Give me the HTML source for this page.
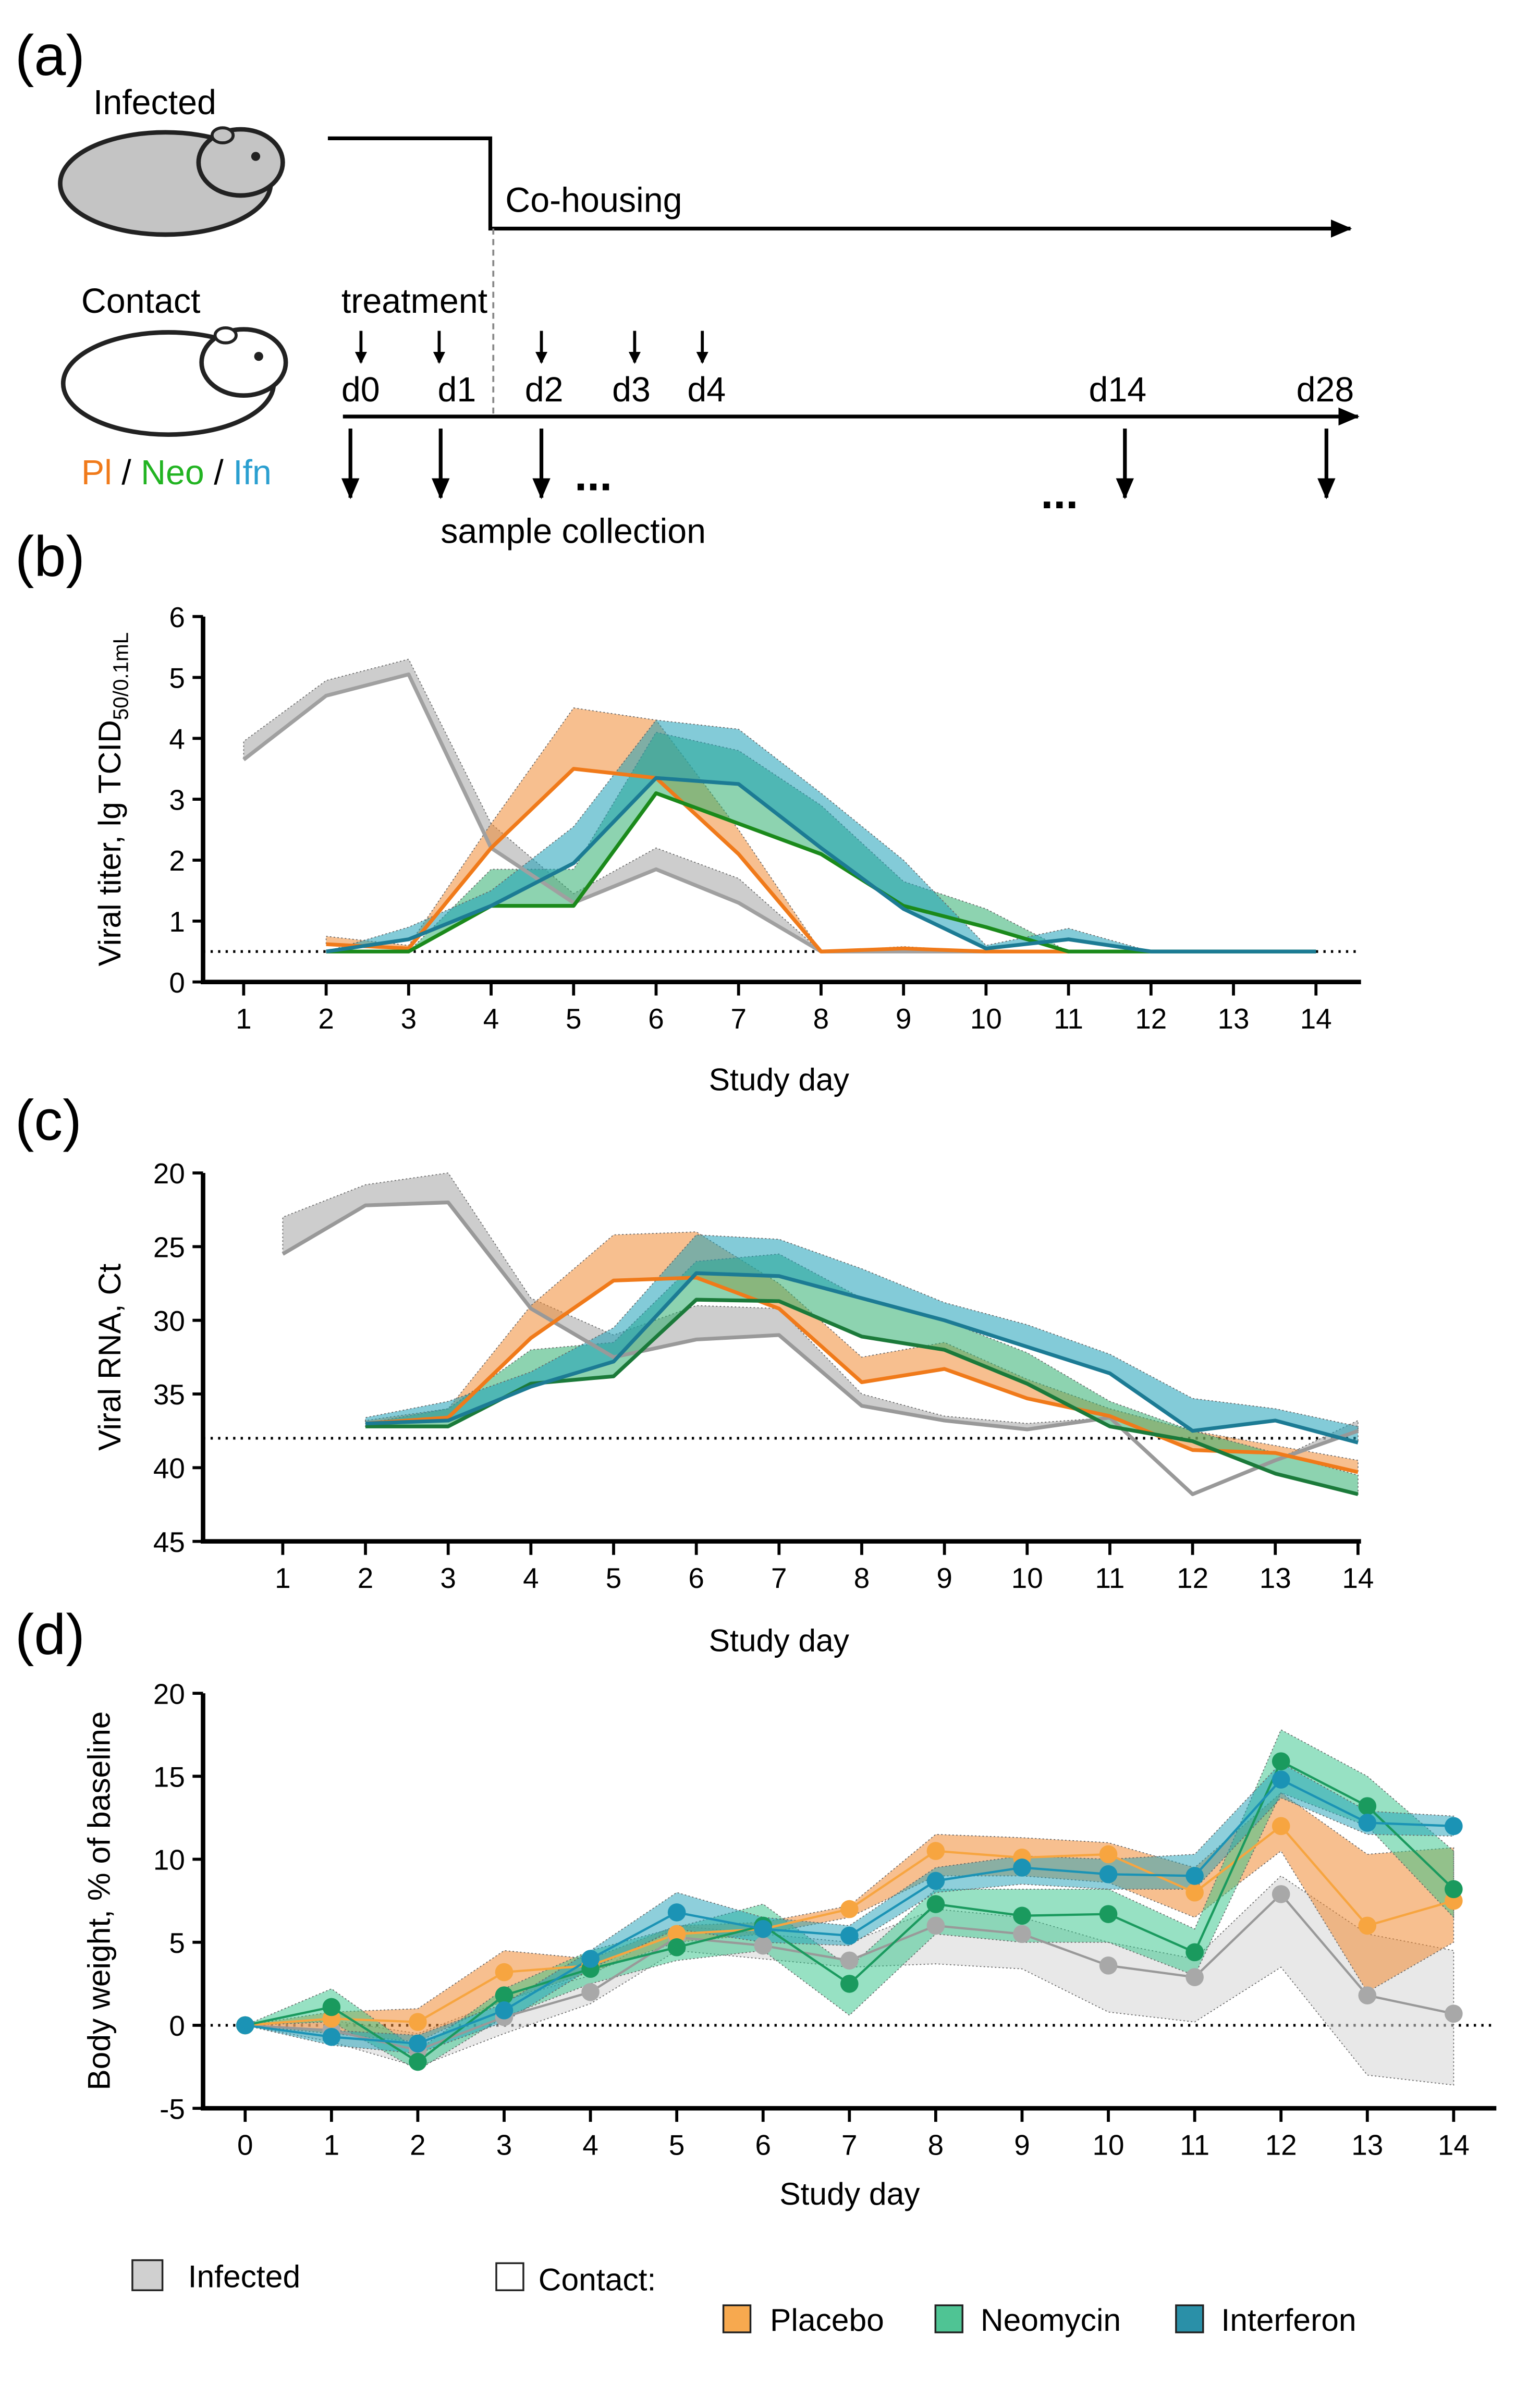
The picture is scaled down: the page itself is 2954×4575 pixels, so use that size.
<!DOCTYPE html>
<html><head><meta charset="utf-8"><style>
html,body{margin:0;padding:0;background:#fff}
svg{display:block;font-family:"Liberation Sans",Arial,sans-serif}
</style></head><body>
<svg id="fig" width="2954" height="4575" viewBox="0 0 1024 1586" xmlns="http://www.w3.org/2000/svg">
<defs><marker id="ah" markerWidth="8" markerHeight="8" refX="7" refY="4" orient="auto" markerUnits="userSpaceOnUse"><path d="M0,0 L8,4 L0,8 z" fill="#000"/></marker>
<marker id="ah2" markerWidth="14" markerHeight="12" refX="13" refY="6" orient="auto" markerUnits="userSpaceOnUse"><path d="M0,0 L14,6 L0,12 z" fill="#000"/></marker></defs>
<g id="panelA">
<text x="10" y="50" font-size="38">(a)</text>
<text x="62" y="76" font-size="23">Infected</text>
<g>
<ellipse cx="110" cy="122" rx="70" ry="34" fill="#c4c4c4" stroke="#222" stroke-width="3"/>
<ellipse cx="160" cy="108" rx="28" ry="22" fill="#c4c4c4" stroke="#222" stroke-width="3"/>
<ellipse cx="148" cy="90" rx="7" ry="5" fill="#c4c4c4" stroke="#222" stroke-width="2"/>
<circle cx="170" cy="104" r="3" fill="#222"/></g>
<text x="54" y="208" font-size="23">Contact</text>
<g>
<ellipse cx="112" cy="255" rx="70" ry="34" fill="#fff" stroke="#222" stroke-width="3"/>
<ellipse cx="162" cy="241" rx="28" ry="22" fill="#fff" stroke="#222" stroke-width="3"/>
<ellipse cx="150" cy="223" rx="7" ry="5" fill="#fff" stroke="#222" stroke-width="2"/>
<circle cx="172" cy="237" r="3" fill="#222"/></g>
<text x="54" y="322" font-size="23"><tspan fill="#f07a1a">Pl</tspan> / <tspan fill="#22b422">Neo</tspan> / <tspan fill="#2a9fd0">Ifn</tspan></text>
<polyline points="218,92 326,92 326,152 898,152" fill="none" stroke="#000" stroke-width="2.5" marker-end="url(#ah2)"/>
<line x1="328" y1="152" x2="328" y2="276" stroke="#888" stroke-width="1.3" stroke-dasharray="4,3"/>
<text x="336" y="141" font-size="23">Co-housing</text>
<text x="227" y="208" font-size="23">treatment</text>
<line x1="228" y1="277" x2="903" y2="277" stroke="#000" stroke-width="2.5" marker-end="url(#ah2)"/>
<g id="tl"></g>
<text x="293" y="361" font-size="23">sample collection</text>
<text x="382" y="326" font-size="30" font-weight="bold">...</text>
<text x="692" y="338" font-size="30" font-weight="bold">...</text>
</g>
<g id="charts"></g>
<g>
<rect x="88" y="1503" width="20" height="20" fill="#d0d0d0" stroke="#222" stroke-width="1.2"/>
<text x="125" y="1521" font-size="21">Infected</text>
<rect x="330" y="1505" width="18" height="18" fill="#fff" stroke="#222" stroke-width="1.2"/>
<text x="358" y="1523" font-size="21">Contact:</text>
<rect x="481" y="1533" width="18" height="18" fill="#f7a94f" stroke="#222" stroke-width="1.2"/>
<text x="512" y="1550" font-size="21">Placebo</text>
<rect x="622" y="1533" width="18" height="18" fill="#4fc494" stroke="#222" stroke-width="1.2"/>
<text x="652" y="1550" font-size="21">Neomycin</text>
<rect x="782" y="1533" width="18" height="18" fill="#2a90a8" stroke="#222" stroke-width="1.2"/>
<text x="812" y="1550" font-size="21">Interferon</text>
</g>
</svg>
<script>
// ---- Panel (b) viral titer data ----
const bDays = [1,2,3,4,5,6,7,8,9,10,11,12,13,14];
const bInfMean = [3.65,4.7,5.05,2.2,1.3,1.85,1.3,0.5,0.5,0.5,null,null,null,null];
const bInfUp   = [3.95,4.95,5.3,2.6,1.45,2.2,1.7,0.5,0.5,0.5,null,null,null,null];
const bPlaMean = [null,0.62,0.55,2.2,3.5,3.35,2.1,0.5,0.55,0.5,0.5,null,null,null];
const bPlaUp   = [null,0.75,0.6,2.6,4.5,4.3,2.5,0.5,0.58,0.5,0.5,null,null,null];
const bNeoMean = [null,0.5,0.5,1.25,1.25,3.1,2.6,2.1,1.25,0.9,0.5,0.5,0.5,0.5];
const bNeoUp   = [null,0.5,0.5,1.85,1.85,4.1,3.8,2.9,1.65,1.2,0.5,0.5,0.5,0.5];
const bIfnMean = [null,0.5,0.7,1.25,1.95,3.35,3.25,2.2,1.2,0.55,0.7,0.5,0.5,0.5];
const bIfnUp   = [null,0.5,0.9,1.5,2.55,4.3,4.15,3.1,2.0,0.6,0.88,0.5,0.5,0.5];
const bYTicks = [0,1,2,3,4,5,6];
// ---- Panel (c) viral RNA Ct ----
const cDays = [1,2,3,4,5,6,7,8,9,10,11,12,13,14];
const cInfMean = [25.5,22.2,22,29.2,32.5,31.3,31,35.8,36.8,37.4,36.6,41.8,39.5,37.5];
const cInfUp   = [23,20.8,20,28.5,31,29,29.2,35,36.5,37,36.6,41.8,39.5,36.8];
const cPlaMean = [null,37,36.6,31.2,27.3,27.1,29.2,34.2,33.3,35.3,36.5,38.8,39,40.3];
const cPlaUp   = [null,36.8,36,29,24.2,24,27.5,32.5,31.5,34,36,37.5,38.5,39.5];
const cNeoMean = [null,37.2,37.2,34.3,33.8,28.6,28.7,31.1,32,34.3,37.2,38.2,40.4,41.8];
const cNeoUp   = [null,37,36,32,31.5,26,25.5,28.5,30,32.2,35.5,37.5,39,40.5];
const cIfnMean = [null,37,36.8,34.5,32.8,26.8,27,28.5,30,31.8,33.6,37.5,36.8,38.3];
const cIfnUp   = [null,36.6,35.5,33.5,30.5,24.2,24.5,26.5,28.8,30.3,32.3,35.3,36,37.2];
const cYTicks = [20,25,30,35,40,45];
// ---- Panel (d) body weight ----
const dDays = [0,1,2,3,4,5,6,7,8,9,10,11,12,13,14];
const dInfMean = [0,-0.3,-1.5,0.5,2,5.3,4.8,3.9,6,5.5,3.6,2.9,7.9,1.8,0.7];
const dInfLo   = [0,-1,-2.5,-0.5,1.3,4.5,4.0,3.5,3.7,3.4,0.8,0.2,3.5,-3,-3.6];
const dInfHi   = [0,0.3,-0.5,1.5,3,6,5.5,5,7,6.5,5,4,9,5.5,4.5];
const dPlaMean = [0,0.4,0.2,3.2,3.6,5.5,5.8,7.0,10.5,10.1,10.3,8,12,6,7.5];
const dPlaLo   = [0,-0.5,-1,1.5,3.2,5,5.5,6.5,9,9,8.6,6.5,10.5,2,5];
const dPlaHi   = [0,0.8,1,4.5,4,6,6.2,7.2,11.5,11.3,11,9.5,14,10.3,10.7];
const dNeoMean = [0,1.1,-2.2,1.8,3.4,4.7,6,2.5,7.3,6.6,6.7,4.4,15.9,13.2,8.2];
const dNeoLo   = [0,0.2,-2.7,0.5,2.5,3.9,4.5,0.6,5.5,5,5,3,14,12,6.5];
const dNeoHi   = [0,2.2,-1.5,2.2,4.5,5.9,7.3,3.5,8.2,8.2,8.2,5.8,17.8,15,10.5];
const dIfnMean = [0,-0.7,-1.1,0.9,4,6.8,5.8,5.4,8.7,9.5,9.1,9,14.8,12.2,12];
const dIfnLo   = [0,-1.2,-1.7,0.2,3.4,5.8,5,4.8,8,8.5,8.2,8.2,13.7,11.5,11.4];
const dIfnHi   = [0,-0.3,-0.6,1.3,4.5,8,6.5,6,9.5,10.2,10,10.3,15.8,12.9,12.6];
const dYTicks = [-5,0,5,10,15,20];

const NS="http://www.w3.org/2000/svg";
const root=document.getElementById('charts');
function mk(tag,attrs,parent){const e=document.createElementNS(NS,tag);for(const k in attrs)e.setAttribute(k,attrs[k]);(parent||root).appendChild(e);return e;}

// timeline labels (schematic)
const tl=document.getElementById('tl');
const tArrows=[240,292,360,422,467];
tArrows.forEach(x=>{const a=mk('line',{x1:x,y1:220,x2:x,y2:241,stroke:'#000','stroke-width':2,'marker-end':'url(#ah)'},tl);

});
const dl=[['d0',227],['d1',291],['d2',349],['d3',407],['d4',457],['d14',724],['d28',862]];
dl.forEach(([t,x])=>{const e=mk('text',{x:x,y:267,'font-size':23},tl);e.textContent=t;

});
[233,293,360,748,882].forEach(x=>{const a=mk('line',{x1:x,y1:285,x2:x,y2:331,stroke:'#000','stroke-width':2.5,'marker-end':'url(#ah2)'},tl);

});

function chart(o){
  const g=mk('g',{});
  
  
  const sx=d=>o.x0+(d-o.d0)*o.dx;
  const sy=v=>o.yTop+(v-o.vTop)/(o.vBot-o.vTop)*(o.yBot-o.yTop);
  o.sx=sx;o.sy=sy;
  // axes
  const ya=mk('line',{x1:o.axX,y1:o.yTop,x2:o.axX,y2:o.yBot+1.5,stroke:'#000','stroke-width':3},g);
  
  
  const xa=mk('line',{x1:o.axX-1.5,y1:o.yBot,x2:o.axEnd,y2:o.yBot,stroke:'#000','stroke-width':3},g);
  
  
  o.yticks.forEach(v=>{mk('line',{x1:o.axX-7,y1:sy(v),x2:o.axX,y2:sy(v),stroke:'#000','stroke-width':2},g);
    const t=mk('text',{x:o.axX-12,y:sy(v)+7,'font-size':19,'text-anchor':'end'},g);t.textContent=v;
    
    });
  o.days.forEach(d=>{mk('line',{x1:sx(d),y1:o.yBot,x2:sx(d),y2:o.yBot+9,stroke:'#000','stroke-width':2},g);
    const t=mk('text',{x:sx(d),y:o.yBot+31,'font-size':19,'text-anchor':'middle'},g);t.textContent=d;
    
    });
  const xt=mk('text',{x:o.xtX,y:o.xtY,'font-size':21,'text-anchor':'middle'},g);xt.textContent='Study day';
  
  
  const yt=mk('text',{x:0,y:0,'font-size':21,'text-anchor':'middle',transform:`translate(${o.ytX},${(o.yTop+o.yBot)/2}) rotate(-90)`},g);
  yt.innerHTML=o.ytitle;
  
  
  const ref=mk('line',{x1:o.axX,y1:sy(o.ref),x2:o.axEnd,y2:sy(o.ref),stroke:'#000','stroke-width':1.8,'stroke-dasharray':'1.5,3.5'},g);
  
  
  o.g=g;return o;
}
function pts(o,arr){const r=[];o.days.forEach((d,i)=>{if(arr[i]!=null)r.push([o.sx(d),o.sy(arr[i])]);});return r;}
function band(o,lo,hi,fill,op,name){
  const a=pts(o,lo),b=pts(o,hi).reverse();
  const p=mk('polygon',{points:a.concat(b).map(q=>q.join(',')).join(' '),fill:fill,'fill-opacity':op,stroke:'#666','stroke-width':0.6,'stroke-dasharray':'1,1.5'},o.g);
  
  
}
function line(o,arr,col,w,name){
  const p=mk('polyline',{points:pts(o,arr).map(q=>q.join(',')).join(' '),fill:'none',stroke:col,'stroke-width':w,'stroke-linejoin':'round'},o.g);
  
  
}
function dots(o,arr,col,name){
  pts(o,arr).forEach(q=>{const c=mk('circle',{cx:q[0],cy:q[1],r:6,fill:col},o.g);
  
  });
}
function plabel(t,y){const e=mk('text',{x:10,y:y,'font-size':38});e.textContent=t;
  
  }

// Panel b
plabel('(b)',383);
const B=chart({name:'viral-titer-chart',days:bDays,d0:1,x0:162,dx:54.85,axX:135,axEnd:905,yTop:410,yBot:653,vTop:6,vBot:0,yticks:bYTicks,ref:0.5,xtX:518,xtY:725,ytX:80,ytitle:'Viral titer, lg TCID<tspan font-size="14" dy="5">50/0.1mL</tspan>'});
band(B,bInfMean,bInfUp,'#b8b8b8',0.7,'infected-band');
band(B,bPlaMean,bPlaUp,'#f08a33',0.55,'placebo-band');
band(B,bNeoMean,bNeoUp,'#2fae70',0.55,'neomycin-band');
band(B,bIfnMean,bIfnUp,'#1ea0b8',0.55,'interferon-band');
line(B,bInfMean,'#a0a0a0',2.5,'infected-line');
line(B,bPlaMean,'#f07a1a',2.5,'placebo-line');
line(B,bNeoMean,'#1b8a1b',2.5,'neomycin-line');
line(B,bIfnMean,'#1c7b94',2.5,'interferon-line');

// Panel c
plabel('(c)',758);
const C=chart({name:'viral-rna-chart',days:cDays,d0:1,x0:188,dx:55,axX:135,axEnd:905,yTop:780,yBot:1025,vTop:20,vBot:45,yticks:cYTicks,ref:38,xtX:518,xtY:1098,ytX:80,ytitle:'Viral RNA, Ct'});
band(C,cInfMean,cInfUp,'#b8b8b8',0.7,'infected-band');
band(C,cPlaMean,cPlaUp,'#f08a33',0.55,'placebo-band');
band(C,cNeoMean,cNeoUp,'#2fae70',0.55,'neomycin-band');
band(C,cIfnMean,cIfnUp,'#1ea0b8',0.55,'interferon-band');
line(C,cInfMean,'#999',2.5,'infected-line');
line(C,cPlaMean,'#f07a1a',2.5,'placebo-line');
line(C,cNeoMean,'#1b7a3a',2.5,'neomycin-line');
line(C,cIfnMean,'#1c7b94',2.5,'interferon-line');

// Panel d
plabel('(d)',1100);
const D=chart({name:'body-weight-chart',days:dDays,d0:0,x0:163,dx:57.4,axX:135,axEnd:995,yTop:1126,yBot:1402,vTop:20,vBot:-5,yticks:dYTicks,ref:0,xtX:565,xtY:1466,ytX:73,ytitle:'Body weight, % of baseline'});
band(D,dInfLo,dInfHi,'#d6d6d6',0.55,'infected-band');
band(D,dPlaLo,dPlaHi,'#f08a33',0.55,'placebo-band');
band(D,dNeoLo,dNeoHi,'#2fc487',0.5,'neomycin-band');
band(D,dIfnLo,dIfnHi,'#1ea0b8',0.5,'interferon-band');
line(D,dInfMean,'#999',1.5,'infected-line');
line(D,dPlaMean,'#f7a540',1.5,'placebo-line');
line(D,dNeoMean,'#1a9a5e',1.5,'neomycin-line');
line(D,dIfnMean,'#1b93b5',1.5,'interferon-line');
dots(D,dInfMean,'#a8a8a8','infected-point');
dots(D,dPlaMean,'#f7a540','placebo-point');
dots(D,dNeoMean,'#1a9a5e','neomycin-point');
dots(D,dIfnMean,'#1b93b5','interferon-point');
</script>
</body></html>
